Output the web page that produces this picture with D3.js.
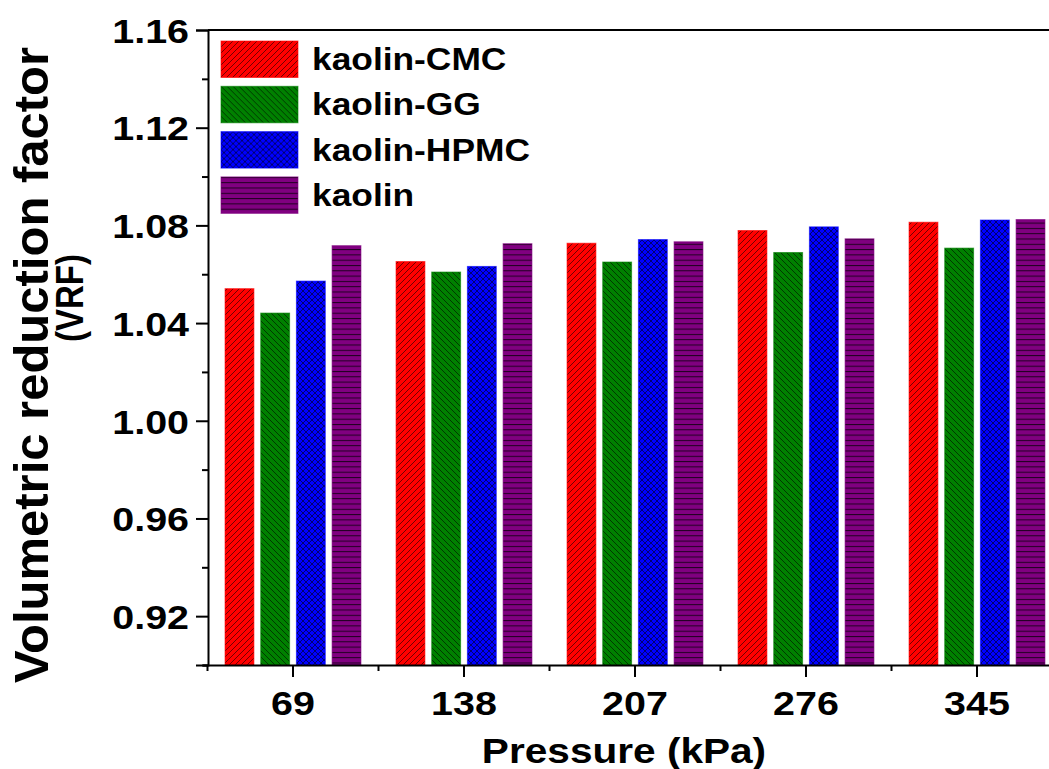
<!DOCTYPE html>
<html>
<head>
<meta charset="utf-8">
<script src="https://cdn.jsdelivr.net/npm/d3@7"></script>
<style>
  html, body { margin: 0; padding: 0; background: #fff; }
  svg { display: block; }
  text { font-family: "Liberation Sans", Arial, sans-serif; font-weight: bold; fill: #000; }
</style>
</head>
<body>
<svg id="chart" width="1049" height="769"></svg>
<script>
// Pressure levels (kPa)
const categories = ["69", "138", "207", "276", "345"];
// Suspension series
const seriesNames = ["kaolin-CMC", "kaolin-GG", "kaolin-HPMC", "kaolin"];
// Volumetric reduction factor per series, one value per pressure level
const kaolinCMC  = [1.0541, 1.0652, 1.0727, 1.0779, 1.0813];
const kaolinGG   = [1.0441, 1.0609, 1.0650, 1.0689, 1.0707];
const kaolinHPMC = [1.0572, 1.0632, 1.0742, 1.0794, 1.0822];
const kaolinOnly = [1.0717, 1.0725, 1.0733, 1.0745, 1.0824];
// Y-axis ticks
const yTicks = [0.92, 0.96, 1.00, 1.04, 1.08, 1.12, 1.16];
const yMinorTicks = [0.90, 0.94, 0.98, 1.02, 1.06, 1.10, 1.14];

const seriesValues = [kaolinCMC, kaolinGG, kaolinHPMC, kaolinOnly];
const colors = ["#ff0000", "#008000", "#0000ff", "#800080"];
const patternIds = ["pat-fwd", "pat-back", "pat-cross", "pat-horiz"];

const svg = d3.select("#chart");
const W = 1049, H = 769;
const plotLeft = 208, plotTop = 30, plotBottom = 665;
const plotRight = 1062.5; // frame continues past the visible edge
const widen = 1.16;       // horizontal widening of the bold lettering

// Hatch patterns
const defs = svg.append("defs");
function makePattern(id, color, draw) {
  const p = defs.append("pattern").attr("id", id)
    .attr("patternUnits", "userSpaceOnUse").attr("width", 6).attr("height", 6);
  p.append("rect").attr("width", 6).attr("height", 6).attr("fill", color);
  draw(p);
}
const hatch = "#000";
makePattern("pat-fwd", colors[0], p => {
  p.append("path").attr("d", "M-1,1 L1,-1 M0,6 L6,0 M5,7 L7,5")
    .attr("stroke", hatch).attr("stroke-width", 0.8).attr("stroke-opacity", 0.7);
});
makePattern("pat-back", colors[1], p => {
  p.append("path").attr("d", "M-1,5 L1,7 M0,0 L6,6 M5,-1 L7,1")
    .attr("stroke", hatch).attr("stroke-width", 0.8).attr("stroke-opacity", 0.7);
});
makePattern("pat-cross", colors[2], p => {
  p.append("path").attr("d", "M-1,1 L1,-1 M0,6 L6,0 M5,7 L7,5 M-1,5 L1,7 M0,0 L6,6 M5,-1 L7,1")
    .attr("stroke", hatch).attr("stroke-width", 0.8).attr("stroke-opacity", 0.7);
});
defs.append("pattern").attr("id", "pat-horiz")
  .attr("patternUnits", "userSpaceOnUse").attr("width", 6).attr("height", 5.3)
  .call(p => {
    p.append("rect").attr("width", 6).attr("height", 5.3).attr("fill", colors[3]);
    p.append("line").attr("x1", 0).attr("x2", 6).attr("y1", 0.5).attr("y2", 0.5)
      .attr("stroke", hatch).attr("stroke-width", 1).attr("stroke-opacity", 0.75);
  });

// Scales
const x0 = d3.scaleBand().domain(categories).range([207.5, plotRight])
  .paddingInner(0.205).paddingOuter(0.1025);
const x1 = d3.scaleBand().domain(seriesNames).range([0, x0.bandwidth()])
  .paddingInner(0.19);
const y = d3.scaleLinear().domain([0.90, 1.16]).range([plotBottom, plotTop]);

// Bars
const barData = [];
categories.forEach((c, ci) => {
  seriesNames.forEach((s, si) => {
    barData.push({ c, s, si, v: seriesValues[si][ci] });
  });
});
svg.append("g").selectAll("rect").data(barData).join("rect")
  .attr("x", d => x0(d.c) + x1(d.s))
  .attr("width", x1.bandwidth())
  .attr("y", d => y(d.v))
  .attr("height", d => y(0.90) - y(d.v))
  .attr("fill", d => `url(#${patternIds[d.si]})`)
  .attr("stroke", d => colors[d.si])
  .attr("stroke-opacity", 0.6)
  .attr("stroke-width", 1);

// Top frame line
svg.append("line").attr("x1", plotLeft).attr("x2", W).attr("y1", plotTop).attr("y2", plotTop)
  .attr("stroke", "#000").attr("stroke-width", 2);

// Widened text: place at (x, y) in plain coordinates, stretched around its anchor
function widenText(sel, x, yPos) {
  sel.attr("x", null).attr("y", null)
    .attr("transform", `translate(${x},${yPos}) scale(${widen},1)`);
}

// Y axis
const yAxis = d3.axisLeft(y).tickValues(yTicks).tickFormat(d3.format(".2f"))
  .tickSize(12).tickPadding(7);
const gy = svg.append("g").attr("transform", `translate(${plotLeft},0)`).call(yAxis);
gy.select(".domain").attr("stroke-width", 2);
gy.selectAll(".tick line").attr("stroke-width", 2);
gy.selectAll(".tick text").style("font-size", "34px").attr("dy", "0.36em")
  .each(function () { widenText(d3.select(this), -19, 0); });
const yMinor = d3.axisLeft(y).tickValues(yMinorTicks).tickSize(6).tickFormat("");
const gym = svg.append("g").attr("transform", `translate(${plotLeft},0)`).call(yMinor);
gym.select(".domain").remove();
gym.selectAll(".tick line").attr("stroke-width", 2);

// X axis
const xAxis = d3.axisBottom(x0).tickSize(12).tickPadding(10).tickSizeOuter(0);
const gx = svg.append("g").attr("transform", `translate(0,${plotBottom})`).call(xAxis);
gx.select(".domain").attr("d", `M${plotLeft - 5},0.5H${W}`).attr("stroke-width", 2);
gx.selectAll(".tick line").attr("stroke-width", 2);
gx.selectAll(".tick text").style("font-size", "34px").attr("dy", "0.72em")
  .each(function () { widenText(d3.select(this), 0, 26); });
// Minor x ticks at category boundaries
const boundaries = categories.map(c => x0(c) - x0.step() * x0.paddingInner() / 2);
svg.append("g").selectAll("line").data(boundaries).join("line")
  .attr("x1", d => d).attr("x2", d => d)
  .attr("y1", plotBottom).attr("y2", plotBottom + 6)
  .attr("stroke", "#000").attr("stroke-width", 2);

// Axis titles
svg.append("text").attr("text-anchor", "middle")
  .attr("transform", `translate(624,763) scale(${widen},1)`)
  .style("font-size", "35px").text("Pressure (kPa)");
svg.append("text").attr("text-anchor", "middle")
  .attr("transform", "translate(48,365) rotate(-90)")
  .style("font-size", "49px").text("Volumetric reduction factor");
svg.append("text").attr("text-anchor", "middle")
  .attr("transform", `translate(83,298) scale(${widen},1) rotate(-90)`)
  .style("font-size", "33px").text("(VRF)");

// Legend
const legend = svg.append("g").selectAll("g").data(seriesNames).join("g")
  .attr("transform", (d, i) => `translate(221,${41 + i * 45.3})`);
legend.append("rect").attr("width", 77).attr("height", 36.5)
  .attr("fill", (d, i) => `url(#${patternIds[i]})`)
  .attr("stroke", (d, i) => colors[i]).attr("stroke-opacity", 0.6);
legend.append("text").attr("dy", "0.36em")
  .attr("transform", `translate(91,18) scale(1.14,1)`)
  .style("font-size", "31px").text(d => d);
</script>
</body>
</html>
